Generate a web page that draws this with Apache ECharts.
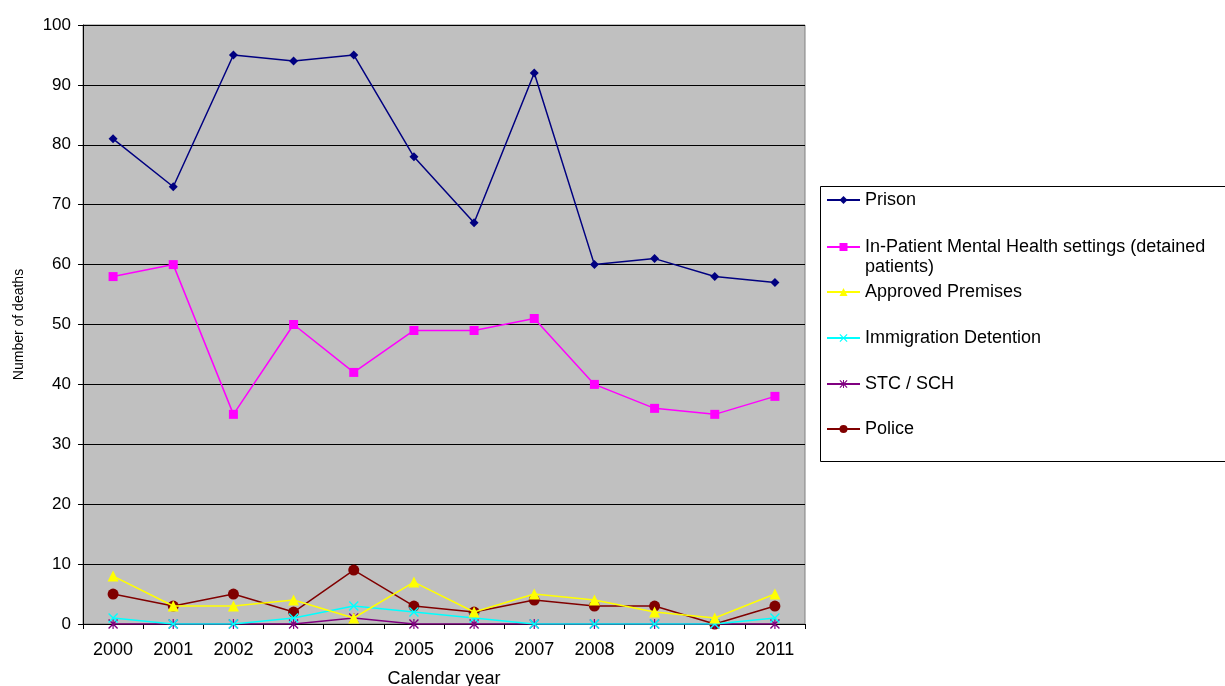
<!DOCTYPE html>
<html><head><meta charset="utf-8">
<script src="https://cdn.jsdelivr.net/npm/echarts@6/dist/echarts.min.js"></script>
<style>html,body{margin:0;padding:0;background:#fff}#c{width:1225px;height:686px}</style>
</head><body><div id="c"></div>
<script>
var years = ['2000','2001','2002','2003','2004','2005','2006','2007','2008','2009','2010','2011'];
var prison = [81,73,95,94,95,78,67,92,60,61,58,57];
var mentalHealth = [58,60,35,50,42,49,49,51,40,36,35,38];
var approvedPremises = [8,3,3,4,1,7,2,5,4,2,1,5];
var immigration = [1,0,0,1,3,2,1,0,0,0,0,1];
var stcSch = [0,0,0,0,1,0,0,0,0,0,0,0];
var police = [5,3,5,2,9,3,2,4,3,3,0,3];

var names = ['Prison','In-Patient Mental Health settings (detained patients)','Approved Premises','Immigration Detention','STC / SCH','Police'];
var colors = ['#000080','#FF00FF','#FFFF00','#00FFFF','#800080','#800000'];
var xPath = 'path://M1,0 L5,4 L9,0 L10,1 L6,5 L10,9 L9,10 L5,6 L1,10 L0,9 L4,5 L0,1 Z';
var starPath = 'path://M1,0 L5,4 L9,0 L10,1 L6,5 L10,9 L9,10 L5,6 L1,10 L0,9 L4,5 L0,1 Z M4.4,0 L5.6,0 L5.6,10 L4.4,10 Z';
var symbols = ['diamond','rect','triangle',xPath,starPath,'circle'];
var sizes = [9,9,11,10,10,11];
var datas = [prison, mentalHealth, approvedPremises, immigration, stcSch, police];
var legendCenters = [200,247,292,338,384,429];

var font = 'Liberation Sans, Arial, sans-serif';
var series = names.map(function(n,i){
  return {name:n,type:'line',data:datas[i],symbol:symbols[i],symbolSize:sizes[i],
    z: 10-i,
    lineStyle:{color:colors[i],width:1.5},itemStyle:{color:colors[i]},animation:false};
});
var legends = names.map(function(n,i){
  return {orient:'vertical',left:826,top: legendCenters[i]-10,
    padding:0,itemWidth:33,itemHeight:10,data:[n],selectedMode:false,
    formatter:function(name){ return name.replace(' patients)',''); },
    textStyle:{fontFamily:font,fontSize:18,color:'#000',lineHeight:20}};
});
var chart = echarts.init(document.getElementById('c'),null,{renderer:'canvas'});
chart.setOption({
  animation:false,
  color:colors,
  graphic:[
    {type:'rect',shape:{x:820.5,y:186.5,width:420,height:275},style:{fill:'#fff',stroke:'#000',lineWidth:1},z:-1},
    {type:'text',left:865,top:258,style:{text:'patients)',font:'18px Liberation Sans, Arial, sans-serif',fill:'#000'},z:5}
  ],
  legend:legends,
  grid:{left:83,right:420,top:25,bottom:62,outerBoundsMode:'none',containLabel:false,show:true,backgroundColor:'#C0C0C0',borderColor:'#808080',borderWidth:1},
  xAxis:{type:'category',data:years,boundaryGap:true,
    name:'Calendar year',nameLocation:'middle',nameGap:46,
    nameTextStyle:{fontFamily:font,fontSize:18,color:'#000'},
    axisLine:{lineStyle:{color:'#000',width:1}},
    axisTick:{show:true,length:5,lineStyle:{color:'#000'}},
    axisLabel:{fontFamily:font,fontSize:18,color:'#000',margin:17}},
  yAxis:{type:'value',min:0,max:100,interval:10,
    name:'Number of deaths',nameLocation:'middle',nameGap:57,
    nameTextStyle:{fontFamily:font,fontSize:14,color:'#000'},
    axisLine:{show:true,lineStyle:{color:'#000',width:1}},
    axisTick:{show:true,length:5,lineStyle:{color:'#000'}},
    axisLabel:{fontFamily:font,fontSize:17,color:'#000',margin:12},
    splitLine:{show:true,lineStyle:{color:'#000',width:1}}},
  series:series
});
</script></body></html>
